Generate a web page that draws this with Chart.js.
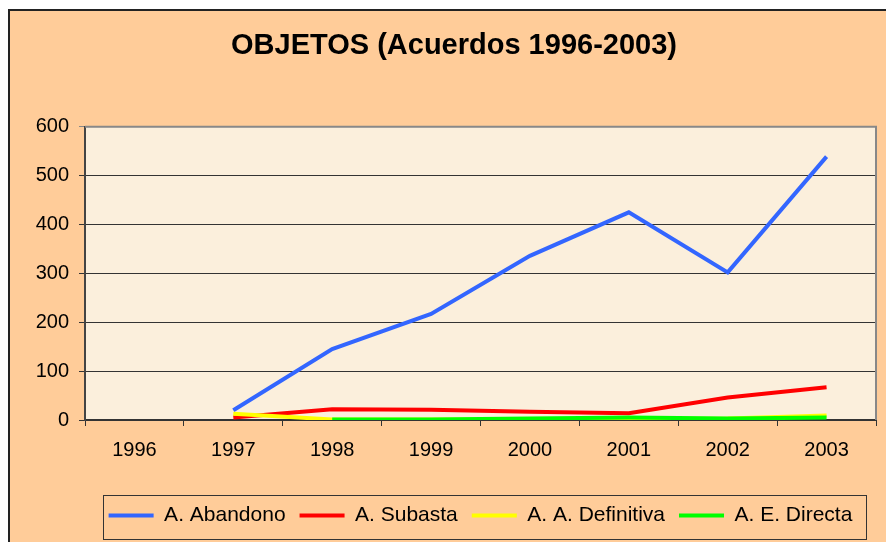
<!DOCTYPE html>
<html>
<head>
<meta charset="utf-8">
<script src="https://cdn.jsdelivr.net/npm/chart.js@4/dist/chart.umd.min.js"></script>
<style>
  html, body { margin: 0; padding: 0; background: #fff; }
  #wrap { width: 886px; height: 542px; }
</style>
</head>
<body>
<div id="wrap"><canvas id="myChart" width="886" height="542"></canvas></div>
<script>
const years = ['1996', '1997', '1998', '1999', '2000', '2001', '2002', '2003'];
const abandono = [null, 20, 145, 217, 336, 425, 302, 539];
const subasta = [null, 5, 22, 21, 17, 14, 46, 67];
const definitiva = [null, 13, 1, 1, 1, 2, 3, 9];
const directa = [null, null, 1, 1, 3, 5, 3, 5];
const seriesNames = ['A. Abandono', 'A. Subasta', 'A. A. Definitiva', 'A. E. Directa'];
const seriesColors = ['#3366ff', '#ff0000', '#ffff00', '#00ff00'];
const yTicks = [0, 100, 200, 300, 400, 500, 600];

const FONT = "'Liberation Sans', Arial, sans-serif";

// paints the page, the peach panel and the plot area
const backdrop = {
  id: 'backdrop',
  beforeDraw(chart) {
    const ctx = chart.ctx;
    const a = chart.chartArea;
    ctx.save();
    ctx.fillStyle = '#fff';
    ctx.fillRect(0, 0, chart.width, chart.height);
    ctx.fillStyle = '#ffcc99';
    ctx.fillRect(8, 9, chart.width - 8, chart.height - 9);
    ctx.strokeStyle = '#222';
    ctx.lineWidth = 2;
    ctx.beginPath();
    ctx.moveTo(9, chart.height);
    ctx.lineTo(9, 10);
    ctx.lineTo(chart.width, 10);
    ctx.stroke();
    ctx.fillStyle = '#fbefdc';
    ctx.fillRect(a.left, a.top, a.right - a.left, a.bottom - a.top);
    ctx.restore();
  },
  beforeDatasetsDraw(chart) {
    const ctx = chart.ctx;
    const a = chart.chartArea;
    ctx.save();
    ctx.strokeStyle = '#888';
    ctx.lineWidth = 2;
    ctx.beginPath();
    ctx.moveTo(a.left, a.top);
    ctx.lineTo(a.right, a.top);
    ctx.lineTo(a.right, a.bottom);
    ctx.stroke();
    ctx.restore();
  },
  afterDraw(chart) {
    const lg = chart.legend;
    const boxes = lg.legendHitBoxes;
    if (!boxes || !boxes.length) return;
    let l = Infinity, r = -Infinity;
    boxes.forEach(b => {
      l = Math.min(l, b.left);
      r = Math.max(r, b.left + b.width);
    });
    const ctx = chart.ctx;
    ctx.save();
    ctx.strokeStyle = '#333';
    ctx.lineWidth = 1;
    ctx.strokeRect(Math.round(l - 6) + 0.5, Math.round(lg.top + 4) + 0.5, Math.round(r - l + 19), 44);
    ctx.restore();
  }
};

const datasets = [abandono, subasta, definitiva, directa].map((vals, i) => ({
  label: seriesNames[i],
  data: vals,
  borderColor: seriesColors[i],
  backgroundColor: seriesColors[i],
  borderWidth: 4,
  pointRadius: 0,
  pointHoverRadius: 0,
  tension: 0,
  order: -i,
}));

const ctx = document.getElementById('myChart').getContext('2d');
new Chart(ctx, {
  type: 'line',
  data: { labels: years, datasets: datasets },
  options: {
    responsive: false,
    animation: false,
    layout: { padding: { left: 32, right: 10, top: 12, bottom: 6 } },
    plugins: {
      title: {
        display: true,
        text: 'OBJETOS (Acuerdos 1996-2003)',
        color: '#000',
        font: { family: FONT, size: 29, weight: 'bold' },
        padding: { top: 17, bottom: 63 },
      },
      legend: {
        position: 'bottom',
        fullSize: false,
        labels: {
          color: '#000',
          font: { family: FONT, size: 21 },
          usePointStyle: true,
          pointStyle: 'line',
          pointStyleWidth: 45,
          padding: 14,
          sort: (a, b) => a.datasetIndex - b.datasetIndex,
        },
      },
      tooltip: { enabled: false },
    },
    scales: {
      x: {
        offset: true,
        grid: {
          offset: true,
          drawOnChartArea: false,
          tickLength: 6,
          color: '#333',
        },
        border: { color: '#333', width: 2 },
        ticks: { color: '#000', font: { family: FONT, size: 20 }, padding: 12, maxRotation: 0 },
        afterFit: s => { s.height = 71; },
      },
      y: {
        min: 0,
        max: 600,
        afterBuildTicks: s => { s.ticks = yTicks.map(v => ({ value: v })); },
        grid: {
          tickLength: 6,
          color: c => (c.tick.value === 600 ? '#888' : '#333'),
        },
        border: { color: '#444', width: 2 },
        ticks: { color: '#000', font: { family: FONT, size: 20 }, padding: 10 },
        afterFit: s => { s.width = 53; },
      },
    },
  },
  plugins: [backdrop],
});
</script>
</body>
</html>
